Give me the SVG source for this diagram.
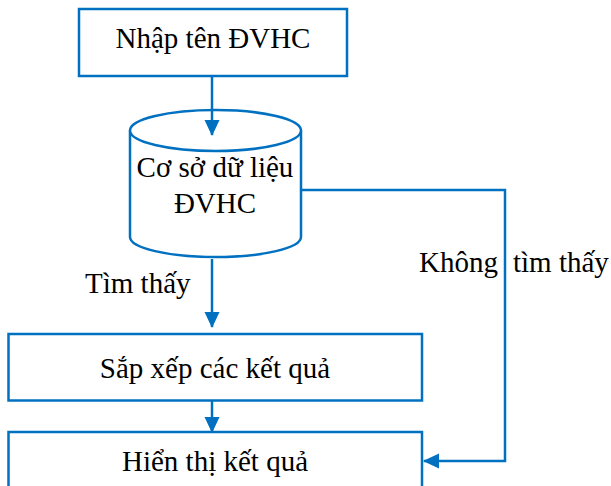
<svg xmlns="http://www.w3.org/2000/svg" width="611" height="486" viewBox="0 0 611 486">
  <defs>
    <style>
      .shape { fill: #ffffff; stroke: #0070C0; stroke-width: 2.5; }
      .line { fill: none; stroke: #0070C0; stroke-width: 2.5; }
      .label { font-family: "Liberation Serif", "Times New Roman", serif; font-size: 29px; fill: #000000; }
      .mid { text-anchor: middle; }
    </style>
    <marker id="arrow" viewBox="0 0 16 16" refX="15" refY="8" markerWidth="16" markerHeight="16" markerUnits="userSpaceOnUse" orient="auto">
      <path d="M0,0.5 L16,8 L0,15.5 Z" fill="#0070C0"/>
    </marker>
  </defs>

  <rect width="611" height="486" fill="#ffffff"/>

  <g id="node-input">
    <rect class="shape" x="79" y="9" width="268" height="67"/>
    <text class="label mid" x="213" y="48">Nhập tên ĐVHC</text>
  </g>

  <g id="node-database">
    <path class="shape" d="M130,130.5 L130,237 A85.5,20 0 0 0 301,237 L301,130.5"/>
    <ellipse class="shape" cx="215.5" cy="130.5" rx="85.5" ry="20.5"/>
    <text class="label mid" x="215" y="177">Cơ sở dữ liệu</text>
    <text class="label mid" x="215" y="213">ĐVHC</text>
  </g>

  <g id="node-sort">
    <rect class="shape" x="8.5" y="334" width="413.5" height="66.5"/>
    <text class="label mid" x="215" y="378">Sắp xếp các kết quả</text>
  </g>

  <g id="node-display">
    <rect class="shape" x="8.5" y="432" width="413.5" height="70"/>
    <text class="label mid" x="215" y="471">Hiển thị kết quả</text>
  </g>

  <!-- drawn after the nodes so the first arrow shows over the cylinder lid -->
  <g id="connectors">
    <line class="line" x1="212" y1="77" x2="212" y2="135" marker-end="url(#arrow)"/>
    <line class="line" x1="212" y1="259" x2="212" y2="327" marker-end="url(#arrow)"/>
    <line class="line" x1="212" y1="401" x2="212" y2="432" marker-end="url(#arrow)"/>
    <polyline class="line" points="302,190 505,190 505,461 424,461" marker-end="url(#arrow)"/>
  </g>

  <g id="edge-labels">
    <text class="label" x="85" y="293">Tìm thấy</text>
    <text class="label" x="419" y="272">Không</text>
    <text class="label" x="513" y="272">tìm thấy</text>
  </g>
</svg>
